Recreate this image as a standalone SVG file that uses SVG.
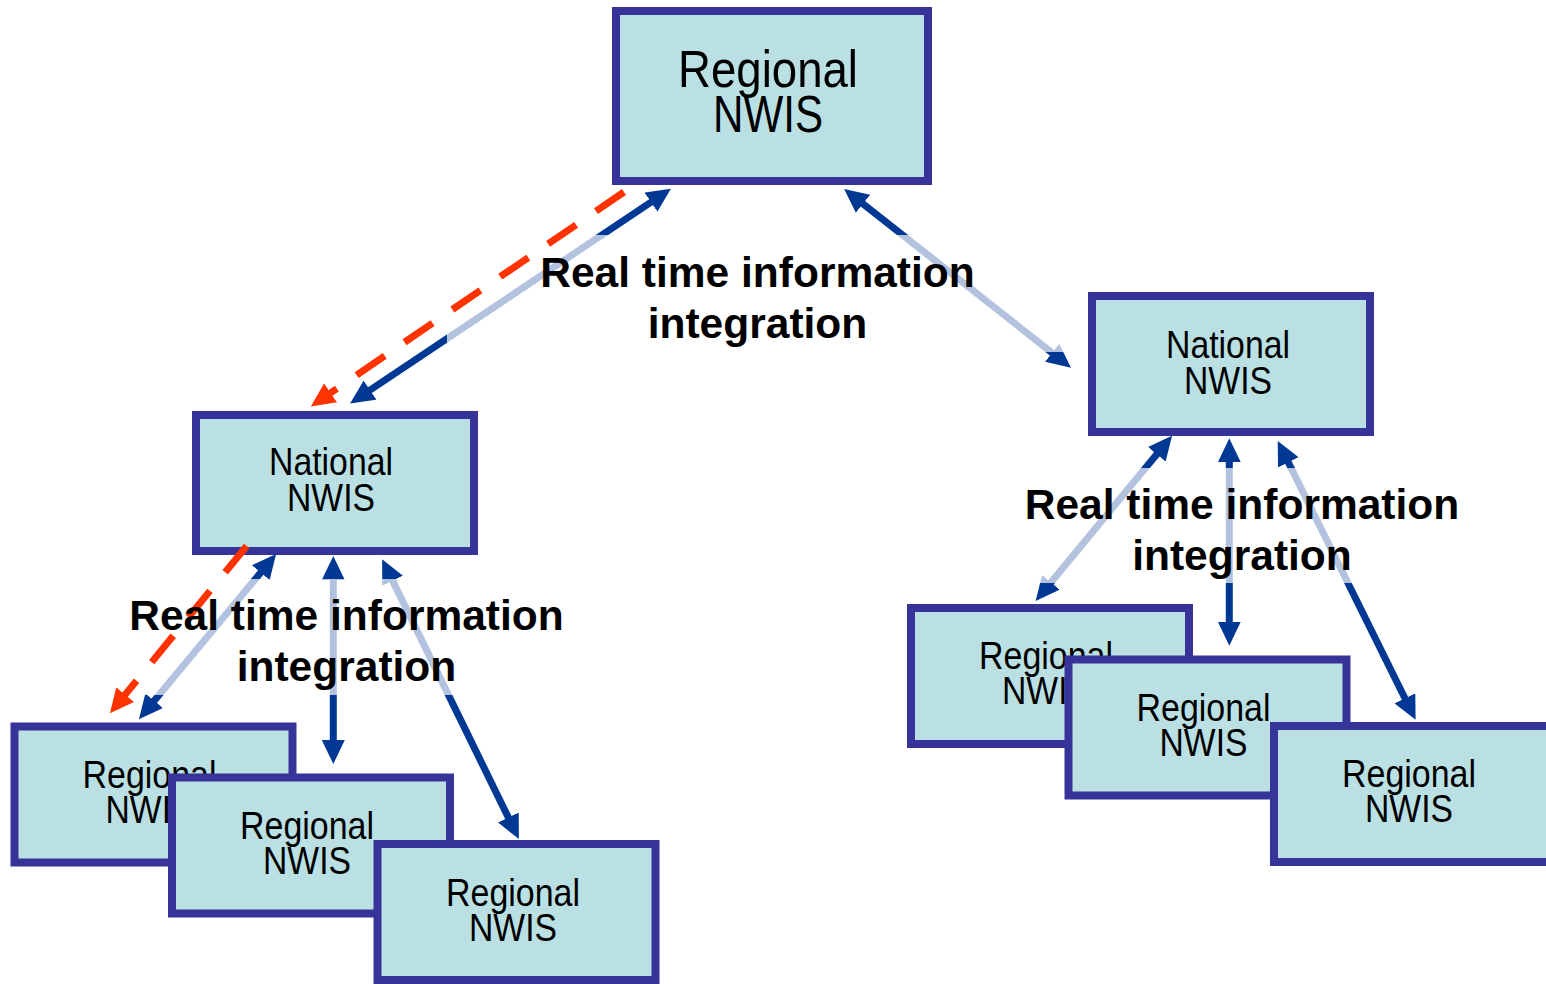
<svg xmlns="http://www.w3.org/2000/svg" width="1546" height="984" viewBox="0 0 1546 984">
<style>
.box{fill:#bae0e3;stroke:#363399;stroke-width:8}
.nt{font-family:"Liberation Sans Narrow","Liberation Sans",Arial,sans-serif;fill:#000;text-anchor:middle}
.s{font-size:38.5px}
.b{font-size:52px}
.lbl{font-family:"Liberation Sans",Arial,sans-serif;font-weight:bold;font-size:42.5px;fill:#000;text-anchor:middle}
.blue{fill:none;stroke:#003893;stroke-width:7;marker-start:url(#hb);marker-end:url(#hb)}
.red{fill:none;stroke:#ff3300;stroke-width:7;stroke-dasharray:34 24;marker-end:url(#hr)}
.shade{fill:#fff;fill-opacity:0.7}
</style>
<defs>
<marker id="hb" markerUnits="userSpaceOnUse" viewBox="0 0 24 23" refX="1" refY="11.5" markerWidth="24" markerHeight="23" orient="auto-start-reverse"><path d="M0,0 L24,11.5 L0,23 z" fill="#003893"/></marker>
<marker id="hr" markerUnits="userSpaceOnUse" viewBox="0 0 24 23" refX="1" refY="11.5" markerWidth="24" markerHeight="23" orient="auto"><path d="M0,0 L24,11.5 L0,23 z" fill="#ff3300"/></marker>
</defs>
<rect width="1546" height="984" fill="#fff"/>
<g id="nodes">
<g id="top-regional">
<rect class="box" x="616" y="11" width="312" height="170"/>
<text class="nt b" x="768" y="87" textLength="180" lengthAdjust="spacingAndGlyphs">Regional</text>
<text class="nt b" x="768" y="131.5" textLength="110" lengthAdjust="spacingAndGlyphs">NWIS</text>
</g>
<g id="national-left">
<rect class="box" x="196" y="415" width="278" height="136"/>
<text class="nt s" x="331" y="475" textLength="124" lengthAdjust="spacingAndGlyphs">National</text>
<text class="nt s" x="331" y="511" textLength="88" lengthAdjust="spacingAndGlyphs">NWIS</text>
</g>
<g id="national-right">
<rect class="box" x="1092" y="296" width="278" height="136"/>
<text class="nt s" x="1228" y="357.5" textLength="124" lengthAdjust="spacingAndGlyphs">National</text>
<text class="nt s" x="1228" y="393.5" textLength="88" lengthAdjust="spacingAndGlyphs">NWIS</text>
</g>
<g id="left-regional-a">
<rect class="box" x="14.5" y="726.5" width="278" height="136"/>
<text class="nt s" x="149.5" y="788" textLength="134" lengthAdjust="spacingAndGlyphs">Regional</text>
<text class="nt s" x="149.5" y="823" textLength="88" lengthAdjust="spacingAndGlyphs">NWIS</text>
</g>
<g id="left-regional-b">
<rect class="box" x="172" y="777.5" width="278" height="136"/>
<text class="nt s" x="307" y="838.5" textLength="134" lengthAdjust="spacingAndGlyphs">Regional</text>
<text class="nt s" x="307" y="873.5" textLength="88" lengthAdjust="spacingAndGlyphs">NWIS</text>
</g>
<g id="left-regional-c">
<rect class="box" x="377.5" y="844" width="278" height="136"/>
<text class="nt s" x="513" y="906" textLength="134" lengthAdjust="spacingAndGlyphs">Regional</text>
<text class="nt s" x="513" y="941" textLength="88" lengthAdjust="spacingAndGlyphs">NWIS</text>
</g>
<g id="right-regional-a">
<rect class="box" x="911" y="608" width="278" height="136"/>
<text class="nt s" x="1046" y="669" textLength="134" lengthAdjust="spacingAndGlyphs">Regional</text>
<text class="nt s" x="1046" y="704" textLength="88" lengthAdjust="spacingAndGlyphs">NWIS</text>
</g>
<g id="right-regional-b">
<rect class="box" x="1068.5" y="659.5" width="278" height="136"/>
<text class="nt s" x="1203.5" y="720.5" textLength="134" lengthAdjust="spacingAndGlyphs">Regional</text>
<text class="nt s" x="1203.5" y="755.5" textLength="88" lengthAdjust="spacingAndGlyphs">NWIS</text>
</g>
<g id="right-regional-c">
<rect class="box" x="1274" y="726" width="278" height="136"/>
<text class="nt s" x="1409" y="787" textLength="134" lengthAdjust="spacingAndGlyphs">Regional</text>
<text class="nt s" x="1409" y="822" textLength="88" lengthAdjust="spacingAndGlyphs">NWIS</text>
</g>
</g>
<g id="connectors">
<path class="blue" d="M651.8,201.6 L369.2,390.7"/>
<path class="blue" d="M862.2,203.2 L1052.9,353.4"/>
<path class="blue" d="M261.4,571.8 L153.6,701.5"/>
<path class="blue" d="M333.3,579 L333.3,741"/>
<path class="blue" d="M392.2,579.9 L508.8,818.4"/>
<path class="blue" d="M1157.4,453.5 L1050.3,583.2"/>
<path class="blue" d="M1229.3,461.3 L1229.3,622.7"/>
<path class="blue" d="M1287.9,461.5 L1405.4,699.2"/>
</g>
<g id="label-shades">
<rect class="shade" x="447" y="235" width="621" height="117"/>
<rect class="shade" x="36" y="579" width="621" height="116"/>
<rect class="shade" x="931" y="468" width="622" height="115"/>
</g>
<g id="connectors-dashed">
<path class="red" d="M624,192 L329.8,393.4"/>
<path class="red" d="M246.7,546 L124.5,695.4"/>
</g>
<g id="labels">
<g id="label-top">
<text class="lbl" x="757.5" y="287">Real time information</text>
<text class="lbl" x="757.5" y="338">integration</text>
</g>
<g id="label-left">
<text class="lbl" x="346.5" y="630">Real time information</text>
<text class="lbl" x="346.5" y="681">integration</text>
</g>
<g id="label-right">
<text class="lbl" x="1242" y="519">Real time information</text>
<text class="lbl" x="1242" y="570">integration</text>
</g>
</g>
</svg>
